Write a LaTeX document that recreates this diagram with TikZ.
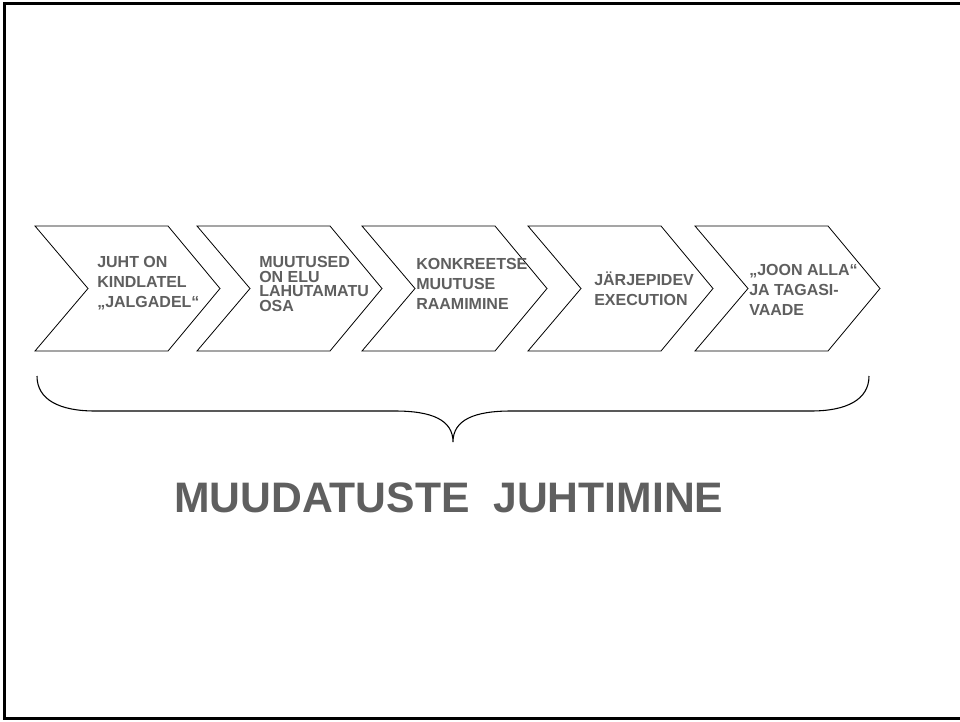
\documentclass[tikz,border=0pt]{standalone}
\usepackage{fontspec}
\setmainfont{Liberation Sans}
\usepackage{tikz}
\usepackage{xcolor}
\usetikzlibrary{positioning}
\definecolor{textgray}{RGB}{95,95,95}
\tikzstyle{chevron} = [draw=black, fill=white, line width=0.6pt, line join=miter]
\tikzstyle{steptext} = [align=left, anchor=west, inner sep=0pt, text=textgray, font=\fontsize{12}{14.8}\selectfont\bfseries]
\tikzstyle{title} = [anchor=west, inner sep=0pt, text=textgray, font=\fontsize{32}{38}\selectfont\bfseries]
\tikzstyle{brace} = [draw=black, line width=0.8pt]

\begin{document}
\begin{tikzpicture}[x={(0.75pt,0)}, y={(0,-0.75pt)}]
        \useasboundingbox (0,0) rectangle (960,721);
        \draw [line width=1.6pt] (962,3.5) -- (4.5,3.5) -- (4.5,718.5) -- (962,718.5);

        % chevrons
        \foreach \x/\i in {35/1, 197/2, 362/3, 528/4, 695/5}
            \draw [chevron] (\x,226) -- ++(133,0) -- ++(52,62.5) -- ++(-52,62.5) -- ++(-133,0) -- ++(53,-62.5) -- cycle;

        \node (juht) [steptext] at (97,283) {JUHT ON\\KINDLATEL\\„JALGADEL“};
        \node (muutused) [steptext, font=\fontsize{12}{11}\selectfont\bfseries] at (259,284) {MUUTUSED\\ON ELU\\LAHUTAMATU\\OSA};
        \node (konkreetse) [steptext] at (416,284) {KONKREETSE\\MUUTUSE\\RAAMIMINE};
        \node (jarjepidev) [steptext] at (594,289) {JÄRJEPIDEV\\EXECUTION};
        \node (joon) [steptext] at (749,290) {„JOON ALLA“\\JA TAGASI-\\VAADE};

        % brace
        \coordinate (braceleft) at (37,376);
        \coordinate (bracetip) at (453,442);
        \coordinate (braceright) at (869,376);
        \draw [brace] (braceleft) .. controls (37,400) and (60,411) .. (95,411) -- (395,411)
            .. controls (432,411) and (453,420) .. (bracetip)
            .. controls (453,420) and (474,411) .. (511,411) -- (811,411)
            .. controls (846,411) and (869,400) .. (braceright);

        \node (muudatuste) [title] at (174,498) {MUUDATUSTE\ \ JUHTIMINE};
    \end{tikzpicture}
\end{document}
